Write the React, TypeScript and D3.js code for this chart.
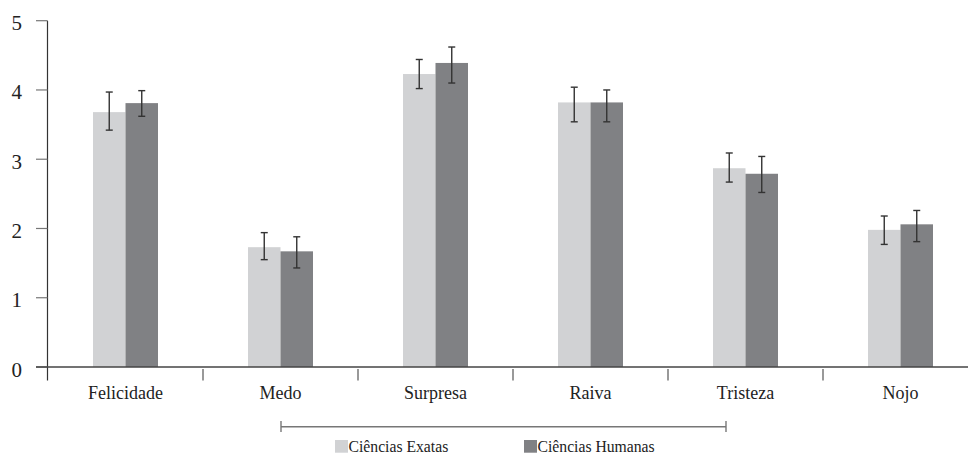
import React from "react";
import * as d3 from "d3";

const categories = ["Felicidade", "Medo", "Surpresa", "Raiva", "Tristeza", "Nojo"];
const seriesNames = ["Ciências Exatas", "Ciências Humanas"];
const exatasMean = [3.68, 1.73, 4.23, 3.82, 2.87, 1.98];
const exatasLow = [3.42, 1.55, 4.02, 3.54, 2.67, 1.77];
const exatasHigh = [3.97, 1.94, 4.44, 4.04, 3.09, 2.18];
const humanasMean = [3.81, 1.67, 4.39, 3.82, 2.79, 2.06];
const humanasLow = [3.62, 1.43, 4.1, 3.54, 2.52, 1.81];
const humanasHigh = [3.99, 1.88, 4.62, 4.0, 3.04, 2.26];
const yTicks = [0, 1, 2, 3, 4, 5];

const colors = ["#d1d2d4", "#808184"];
const W = 968;
const H = 455;
const FONT = '"Liberation Serif", "Times New Roman", Times, "DejaVu Serif", serif';
const textStyle = { fontFamily: FONT };

export default function App() {
  const x = d3.scaleBand<string>().domain(categories).range([48, 978]).paddingInner(0).paddingOuter(0);
  const y = d3.scaleLinear().domain([0, 5]).range([367, 20.7]);
  const groupW = 65;
  const sub = d3.scaleBand<string>().domain(seriesNames).range([0, groupW]).padding(0);
  const series = [
    { name: seriesNames[0], mean: exatasMean, low: exatasLow, high: exatasHigh, color: colors[0] },
    { name: seriesNames[1], mean: humanasMean, low: humanasLow, high: humanasHigh, color: colors[1] },
  ];
  const bounds = x.domain().map((c) => x(c)!).concat([x.range()[1]]);
  const axisX = 47.5;
  return (
    <svg width={W} height={H} style={{ position: "absolute", left: 0, top: 0, background: "#fff", fontFamily: FONT }}>
      {/* bars */}
      {series.map((s) =>
        categories.map((c, i) => {
          const gx = x(c)! + x.bandwidth() / 2 - groupW / 2 + sub(s.name)!;
          return (
            <rect key={s.name + c} x={gx} y={y(s.mean[i])} width={sub.bandwidth()} height={y(0) - y(s.mean[i])} fill={s.color} />
          );
        })
      )}
      {/* error bars */}
      {series.map((s) =>
        categories.map((c, i) => {
          const cx = x(c)! + x.bandwidth() / 2 - groupW / 2 + sub(s.name)! + sub.bandwidth() / 2;
          return (
            <g key={"e" + s.name + c} stroke="#333" strokeWidth={1.4}>
              <line x1={cx} x2={cx} y1={y(s.low[i])} y2={y(s.high[i])} />
              <line x1={cx - 3.5} x2={cx + 3.5} y1={y(s.low[i])} y2={y(s.low[i])} />
              <line x1={cx - 3.5} x2={cx + 3.5} y1={y(s.high[i])} y2={y(s.high[i])} />
            </g>
          );
        })
      )}
      {/* y axis */}
      <line x1={axisX} x2={axisX} y1={y(5)} y2={380.5} stroke="#333" strokeWidth={1.2} />
      {yTicks.map((t) => (
        <g key={"yt" + t}>
          <line x1={36} x2={axisX} y1={y(t)} y2={y(t)} stroke="#777" strokeWidth={1.2} />
          <text x={22} y={y(t) + 9.5} textAnchor="end" fontSize={21} fill="#222" style={textStyle}>
            {t}
          </text>
        </g>
      ))}
      {/* x axis */}
      <line x1={36} x2={W} y1={y(0)} y2={y(0)} stroke="#444" strokeWidth={1.3} />
      {bounds.slice(1).map((b, i) => (
        <line key={"xt" + i} x1={b} x2={b} y1={369} y2={380.5} stroke="#555" strokeWidth={1.2} />
      ))}
      {categories.map((c) => (
        <text key={"xl" + c} x={x(c)! + x.bandwidth() / 2} y={399} textAnchor="middle" fontSize={18} fill="#222" style={textStyle}>
          {c}
        </text>
      ))}
      {/* legend bracket */}
      <g stroke="#777" strokeWidth={1.4}>
        <line x1={281} x2={726} y1={426.7} y2={426.7} />
        <line x1={281} x2={281} y1={421} y2={432} />
        <line x1={726} x2={726} y1={421} y2={432} />
      </g>
      {/* legend */}
      {series.map((s, i) => {
        const lx = i === 0 ? 335 : 524;
        return (
          <g key={"lg" + i}>
            <rect x={lx} y={440} width={13} height={12.7} fill={s.color} />
            <text x={lx + 13.5} y={452} fontSize={15.7} fill="#222" style={textStyle}>
              {s.name}
            </text>
          </g>
        );
      })}
    </svg>
  );
}
